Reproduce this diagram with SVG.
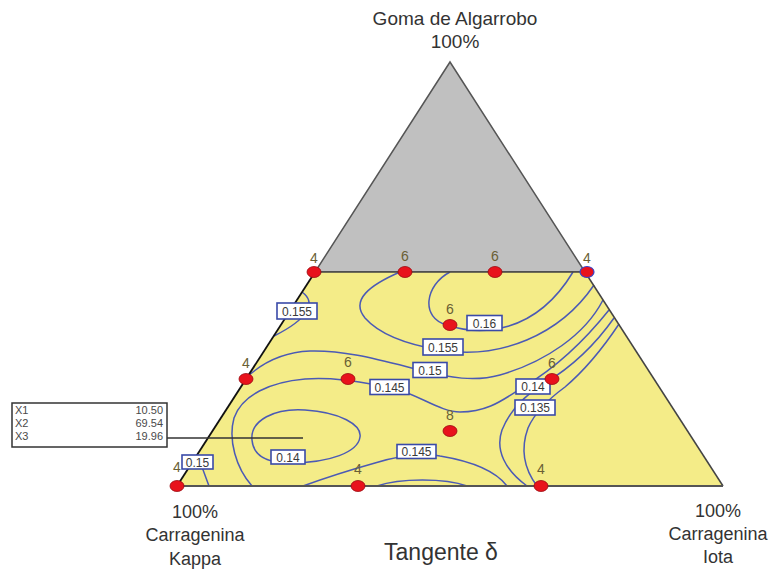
<svg xmlns="http://www.w3.org/2000/svg" width="770" height="571" viewBox="0 0 770 571">
<style>
.t{font-family:"Liberation Sans",Arial,sans-serif;fill:#333;text-anchor:middle}
.c{fill:none;stroke:#4B5AB5;stroke-width:1.5}
.lb rect{fill:#fff;stroke:#3A4AA8;stroke-width:1.6}
.lb text{font-family:"Liberation Sans",Arial,sans-serif;font-size:12px;fill:#3a3a3a;text-anchor:middle}
.pt{fill:#E8121C;stroke:#9A0A10;stroke-width:0.8}
.pl{font-family:"Liberation Sans",Arial,sans-serif;font-size:14px;fill:#6A5F35;text-anchor:middle}
.lg{font-family:"Liberation Sans",Arial,sans-serif;font-size:11px;fill:#4a4a4a}
</style>
<rect width="770" height="571" fill="#fff"/>
<g id="plot">
<polygon points="450,62 585,272 315,272" fill="#C0C0C0" stroke="#555" stroke-width="1.5"/>
<polygon points="315,272 585,272 723,486 177,486" fill="#F4EC88" stroke="none"/>
</g>
<g id="contours">
<path class="c" d="M450,272 C425,285 420,318 447,325 C480,336 535,335 573,272"/>
<path class="c" d="M302,292 C316,302 310,318 274,336"/>
<path class="c" d="M400,272 C370,285 350,300 365,318 C380,335 410,345 440,350 C500,360 560,335 594,285"/>
<path class="c" d="M246,378 C265,360 285,352 310,351 C345,350 380,360 420,370 C450,378 475,382 500,375 C545,362 585,335 603,300"/>
<path class="c" d="M252,486 C236,468 228,440 234,418 C242,395 270,382 305,379 C335,377 360,382 390,387 C420,395 440,412 460,412 C490,412 505,398 525,386 C555,368 585,340 609,310"/>
<path class="c" d="M252,440 C250,420 275,408 305,410 C340,412 362,425 360,437 C358,452 330,463 290,463 C262,463 253,452 252,440 Z"/>
<path class="c" d="M200,462 C204,472 206,478 209,486"/>
<path class="c" d="M303,486 C325,478 350,470 375,463 C395,457 420,452 440,456 C470,461 495,470 507,486"/>
<path class="c" d="M377,486 C400,478 445,478 467,486"/>
<path class="c" d="M527,486 C505,470 495,450 502,430 C510,410 525,395 545,383 C570,368 595,345 614,318"/>
<path class="c" d="M537,486 C525,470 520,450 528,428 C535,412 550,398 565,387 C585,370 605,345 619,324"/>
</g>
<g id="edges" fill="none">
<line x1="315" y1="272" x2="177" y2="486" stroke="#111" stroke-width="1.8"/>
<line x1="585" y1="272" x2="723" y2="486" stroke="#444" stroke-width="1.5"/>
<line x1="177" y1="486" x2="723" y2="486" stroke="#555" stroke-width="1.8"/>
<line x1="315" y1="272" x2="585" y2="272" stroke="#444" stroke-width="1.5"/>
</g>
<g id="legend">
<rect x="12" y="403" width="155" height="44" fill="#fff" stroke="#333" stroke-width="1.5"/>
<line x1="167" y1="438" x2="303" y2="438" stroke="#333" stroke-width="1.5"/>
<text class="lg" x="15" y="414">X1</text>
<text class="lg" x="15" y="427">X2</text>
<text class="lg" x="15" y="440">X3</text>
<text class="lg" x="163" y="414" text-anchor="end">10.50</text>
<text class="lg" x="163" y="427" text-anchor="end">69.54</text>
<text class="lg" x="163" y="440" text-anchor="end">19.96</text>
</g>
<g id="labels" class="lb">
<rect x="277" y="303" width="40" height="16"/><text x="297" y="315.5">0.155</text>
<rect x="467" y="315.5" width="35" height="15"/><text x="484.5" y="327.5">0.16</text>
<rect x="423" y="339" width="40" height="16"/><text x="443" y="351.5">0.155</text>
<rect x="413" y="362.5" width="34" height="15"/><text x="430" y="374.5">0.15</text>
<rect x="370" y="379.5" width="39" height="15"/><text x="389.5" y="391.5">0.145</text>
<rect x="516" y="379" width="34" height="15"/><text x="533" y="391">0.14</text>
<rect x="515" y="400" width="40" height="15"/><text x="535" y="412">0.135</text>
<rect x="271" y="450" width="34" height="14"/><text x="288" y="461.5">0.14</text>
<rect x="397" y="444.5" width="39" height="14"/><text x="416.5" y="456">0.145</text>
<rect x="182" y="455" width="31" height="14"/><text x="197.5" y="466.5">0.15</text>
</g>
<g id="points">
<ellipse class="pt" cx="177" cy="486" rx="7" ry="5.5"/>
<ellipse class="pt" cx="314" cy="272" rx="7" ry="5.5"/>
<ellipse class="pt" cx="405" cy="272" rx="7" ry="5.5"/>
<ellipse class="pt" cx="495" cy="272" rx="7" ry="5.5"/>
<ellipse cx="587" cy="272" rx="7" ry="5.5" fill="#E8121C" stroke="#3344CC" stroke-width="1.2"/>
<ellipse class="pt" cx="246" cy="379" rx="7" ry="5.5"/>
<ellipse class="pt" cx="348" cy="379" rx="7" ry="5.5"/>
<ellipse class="pt" cx="450" cy="325" rx="7" ry="5.5"/>
<ellipse class="pt" cx="552" cy="379" rx="7" ry="5.5"/>
<ellipse class="pt" cx="450" cy="431" rx="7" ry="5.5"/>
<ellipse class="pt" cx="358" cy="486" rx="7" ry="5.5"/>
<ellipse class="pt" cx="541" cy="486" rx="7" ry="5.5"/>
<text class="pl" x="177" y="472">4</text>
<text class="pl" x="314" y="263">4</text>
<text class="pl" x="405" y="261">6</text>
<text class="pl" x="495" y="261">6</text>
<text class="pl" x="587" y="263">4</text>
<text class="pl" x="246" y="368">4</text>
<text class="pl" x="348" y="367">6</text>
<text class="pl" x="450" y="314">6</text>
<text class="pl" x="552" y="368">6</text>
<text class="pl" x="450" y="420">8</text>
<text class="pl" x="358" y="474">4</text>
<text class="pl" x="541" y="474">4</text>
</g>
<g id="titles">
<text class="t" x="455" y="25" font-size="19">Goma de Algarrobo</text>
<text class="t" x="455" y="48" font-size="19">100%</text>
<text class="t" x="195" y="518" font-size="18">100%</text>
<text class="t" x="195" y="541" font-size="18">Carragenina</text>
<text class="t" x="195" y="565" font-size="18">Kappa</text>
<text class="t" x="718" y="517" font-size="18">100%</text>
<text class="t" x="718" y="540" font-size="18">Carragenina</text>
<text class="t" x="718" y="563" font-size="18">Iota</text>
<text class="t" x="441" y="560" font-size="23">Tangente δ</text>
</g>
</svg>
